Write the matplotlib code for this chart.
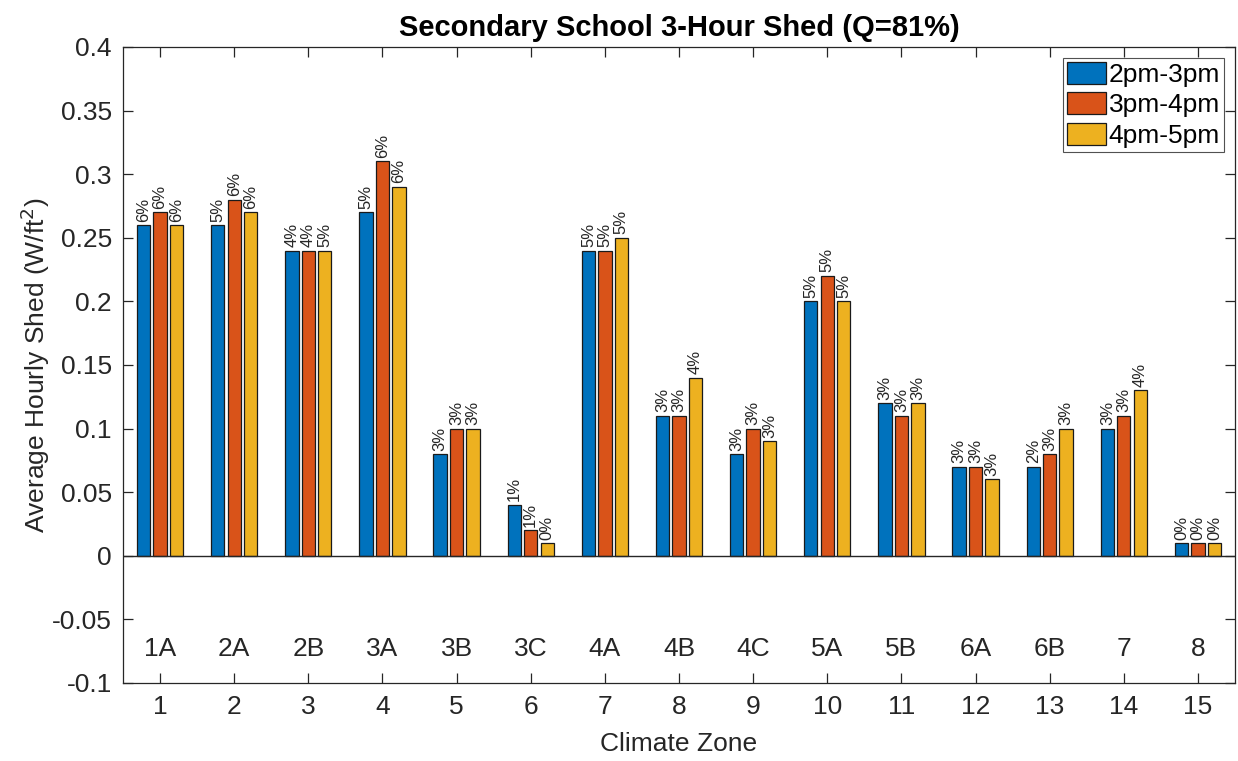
import matplotlib
matplotlib.use("Agg")
import matplotlib.pyplot as plt
import numpy as np
from matplotlib.ticker import FuncFormatter

zones = list(range(1, 16))
zone_names = ["1A", "2A", "2B", "3A", "3B", "3C", "4A", "4B", "4C", "5A",
              "5B", "6A", "6B", "7", "8"]
series_names = ["2pm-3pm", "3pm-4pm", "4pm-5pm"]
shed_2_3 = [0.26, 0.26, 0.24, 0.27, 0.08, 0.04, 0.24, 0.11, 0.08, 0.20, 0.12, 0.07, 0.07, 0.10, 0.01]
shed_3_4 = [0.27, 0.28, 0.24, 0.31, 0.10, 0.02, 0.24, 0.11, 0.10, 0.22, 0.11, 0.07, 0.08, 0.11, 0.01]
shed_4_5 = [0.26, 0.27, 0.24, 0.29, 0.10, 0.01, 0.25, 0.14, 0.09, 0.20, 0.12, 0.06, 0.10, 0.13, 0.01]
pct_2_3 = ["6%", "5%", "4%", "5%", "3%", "1%", "5%", "3%", "3%", "5%", "3%", "3%", "2%", "3%", "0%"]
pct_3_4 = ["6%", "6%", "4%", "6%", "3%", "1%", "5%", "3%", "3%", "5%", "3%", "3%", "3%", "3%", "0%"]
pct_4_5 = ["6%", "6%", "5%", "6%", "3%", "0%", "5%", "4%", "3%", "5%", "3%", "3%", "3%", "4%", "0%"]
yticks = [-0.1, -0.05, 0, 0.05, 0.1, 0.15, 0.2, 0.25, 0.3, 0.35, 0.4]

plt.rcParams['font.family'] = ['Liberation Sans', 'DejaVu Sans']
colors = ["#0072BD", "#D95319", "#EDB120"]
txtc = "#262626"

fig = plt.figure(figsize=(12.38, 7.61), dpi=100)
ax = fig.add_axes([123/1238, 1-683/761, (1235-123)/1238, (683-47)/761])

x = np.array(zones, dtype=float)
offsets = [-0.222, 0.0, 0.222]
width = 0.18
all_vals = [shed_2_3, shed_3_4, shed_4_5]
all_pcts = [pct_2_3, pct_3_4, pct_4_5]
for vals, pcts, off, c, name in zip(all_vals, all_pcts, offsets, colors, series_names):
    bars = ax.bar(x + off, vals, width, color=c, edgecolor="#1a1a1a", linewidth=0.9, label=name, zorder=3)
    for b, p in zip(bars, pcts):
        ax.annotate(p, (b.get_x() + b.get_width()/2, b.get_height()),
                    xytext=(0, 2.5), textcoords="offset points", rotation=90,
                    ha="center", va="bottom", fontsize=12, color=txtc)

ax.axhline(0, color="#262626", linewidth=1.0, zorder=4)
for xi, zn in zip(zones, zone_names):
    ax.text(xi, -0.073, zn, ha="center", va="center", fontsize=19, color=txtc)

ax.set_xlim(0.5, 15.5)
ax.set_ylim(-0.1, 0.4)
ax.set_xticks(zones)
ax.set_yticks(yticks)
ax.yaxis.set_major_formatter(FuncFormatter(lambda v, p: "%g" % round(v, 3)))
ax.tick_params(direction="in", length=7.5, width=0.9, colors="#262626",
               labelsize=19, top=True, right=True, pad=8)
ax.tick_params(axis="x", pad=9)
for s in ax.spines.values():
    s.set_color("#262626")
    s.set_linewidth(0.9)

ax.set_xlabel("Climate Zone", fontsize=19, color=txtc, labelpad=9)
ax.set_ylabel("Average Hourly Shed (W/ft$^2$)", fontsize=19, color=txtc, labelpad=0)
ax.set_title("Secondary School 3-Hour Shed (Q=81%)", fontsize=21, fontweight="bold",
             color="black", pad=8)

leg = ax.legend(loc="upper right", fontsize=19, frameon=True, fancybox=False,
                edgecolor="#262626", handlelength=1.5, handleheight=0.9,
                handletextpad=0.08, labelspacing=0.2, borderpad=0.15,
                borderaxespad=0.42)
leg.get_frame().set_linewidth(0.8)

fig.savefig("out.png", dpi=100)
